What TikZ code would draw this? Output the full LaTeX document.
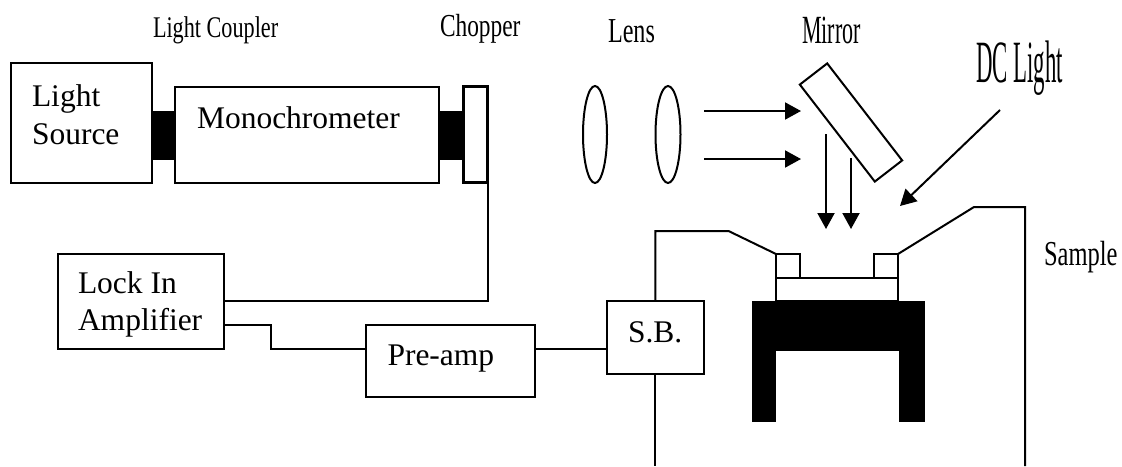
\documentclass[tikz,border=0pt]{standalone}
\usepackage{fontspec}
\setmainfont{Liberation Serif}
\usetikzlibrary{arrows.meta,shapes.geometric,calc}
\tikzset{
  ln/.style={line width=2pt,line join=miter},
  box/.style={draw,ln,rectangle,inner sep=0pt,outer sep=0pt},
  solid block/.style={rectangle,fill=black,inner sep=0pt,outer sep=0pt},
  lensshape/.style={draw,ln,ellipse,inner sep=0pt,outer sep=0pt,minimum width=24pt,minimum height=97pt},
  txt/.style={inner sep=0pt,outer sep=0pt,font=\fontsize{31.5pt}{37.5pt}\selectfont,align=left},
  caption text/.style={inner sep=0pt,outer sep=0pt,anchor=base west},
  arr/.style={ln,-{Triangle[length=16pt,width=17pt]}}
}
\newcommand{\capt}[3]{\scalebox{#2}[1]{\fontsize{#1pt}{#1pt}\selectfont #3}}
\begin{document}
\begin{tikzpicture}[x=1pt,y=-1pt]
\useasboundingbox (0,0) rectangle (1122,466);
\fill[white] (0,0) rectangle (1122,466);
% boxes
\node[box,minimum width=141pt,minimum height=120pt] (source) at (81.5,123) {};
\node[box,minimum width=264pt,minimum height=96pt] (mono) at (307,135) {};
\node[solid block,minimum width=24pt,minimum height=49pt] (c1) at (163.5,135.5) {};
\node[solid block,minimum width=24pt,minimum height=49pt] (c2) at (451,135.5) {};
\node[box,line width=3.4pt,minimum width=24pt,minimum height=96pt] (chop) at (475.5,134.5) {};
\node[box,minimum width=166pt,minimum height=95pt] (lock) at (141,301.5) {};
\node[box,minimum width=169pt,minimum height=72pt] (pre) at (450.5,361) {};
\node[box,minimum width=97pt,minimum height=73pt] (sb) at (655.3,337.5) {};
% optics
\node[lensshape] (l1) at (595,134.5) {};
\node[lensshape,minimum width=25pt] (l2) at (668,134.5) {};
\node[box,rotate=-52.3,minimum width=122.6pt,minimum height=34.6pt] (mirror) at (851,122.5) {};
% sample
\node[box,minimum width=24pt,minimum height=24pt] (sq1) at (788,266) {};
\node[box,minimum width=24pt,minimum height=24pt] (sq2) at (886,266) {};
\node[box,minimum width=122pt,minimum height=23pt] (plate) at (837,289.5) {};
\node[solid block,minimum width=173pt,minimum height=50pt] (bar) at (838.5,326) {};
\node[solid block,minimum width=24pt,minimum height=72pt] (leg1) at (764,386) {};
\node[solid block,minimum width=26pt,minimum height=72pt] (leg2) at (912,386) {};
% free points
\coordinate (a1s) at (704,111); \coordinate (a1e) at (801,111);
\coordinate (a2s) at (704,159); \coordinate (a2e) at (801,159);
\coordinate (d1s) at (826,134); \coordinate (d1e) at (826,229);
\coordinate (d2s) at (851,158); \coordinate (d2e) at (851,229);
\coordinate (dcs) at (1000,110); \coordinate (dce) at (900,206);
\coordinate (lockA) at (224,301); \coordinate (lockB) at (224,325);
\coordinate (preW) at (366,349); \coordinate (preE) at (535,349);
\coordinate (sbW) at (606.8,349);
\coordinate (wl1) at (655.3,231); \coordinate (wl2) at (728.5,231);
\coordinate (wr1) at (974,207); \coordinate (wr2) at (1025,207);
\coordinate (wr3) at (1025,466); \coordinate (wb) at (655.3,466);
% connectors
\draw[ln] (chop.south east) |- (lockA);
\draw[ln] (lockB) -| (271,349) -- (preW);
\draw[ln] (preE) -- (sbW);
\draw[ln] (sb.north) -- (wl1) -- (wl2) -- (sq1.north west);
\draw[ln] (sq2.north east) -- (wr1) -- (wr2) -- (wr3);
\draw[ln] (sb.south) -- (wb);
% arrows
\draw[arr] (a1s) -- (a1e);
\draw[arr] (a2s) -- (a2e);
\draw[arr] (d1s) -- (d1e);
\draw[arr] (d2s) -- (d2e);
\draw[arr] (dcs) -- (dce);
% box texts
\node[txt,anchor=west] (tsource) at (32,114.5) {Light\\Source};
\node[txt,anchor=base west] (tmono) at (197,128) {Monochrometer};
\node[txt,anchor=west] (tlock) at (78,304.5) {Lock In\\Amplifier};
\node[txt,anchor=base west] (tpre) at (387.5,365) {Pre-amp};
\node[txt,anchor=base west] (tsb) at (628,342) {S.B.};
% captions
\node[caption text] (ccoup) at (153,37) {\capt{30}{0.74}{Light Coupler}};
\node[caption text] (cchop) at (440,36) {\capt{32}{0.73}{Chopper}};
\node[caption text] (clens) at (608,42) {\capt{35}{0.69}{Lens}};
\node[caption text] (cmirr) at (802,43) {\capt{40}{0.55}{Mirror}};
\node[caption text] (cdc) at (976,82) {\capt{60}{0.38}{DC Light}};
\node[caption text] (csamp) at (1044,265) {\capt{35}{0.7}{Sample}};
\end{tikzpicture}
\end{document}
